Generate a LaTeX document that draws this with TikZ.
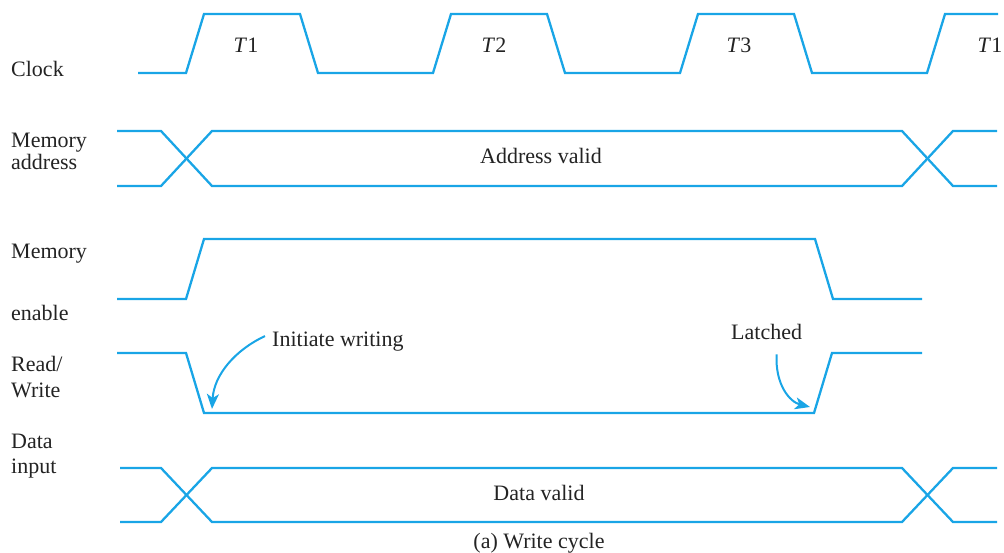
\documentclass[tikz,border=0pt]{standalone}
\usepackage{fontspec}
\setmainfont{Liberation Serif}
\usetikzlibrary{arrows.meta}

\definecolor{wave}{RGB}{25,165,230}
\definecolor{ink}{RGB}{35,35,35}

\tikzset{
  sig/.style={draw=wave, line width=2.3pt, line join=miter},
  lbl/.style={anchor=base west, inner sep=0pt, text=ink, font=\fontsize{22}{26}\selectfont},
  mid/.style={anchor=base, inner sep=0pt, text=ink, font=\fontsize{22}{26}\selectfont},
  note/.style={draw=wave, line width=2pt, -{Stealth[length=15pt,width=12pt,inset=4pt]}}
}

% bus with crossings: #1 top y, #2 bottom y, #3 start x
\newcommand{\busline}[3]{
\draw [sig] (#3,#1) -- (161,#1) -- (212,#2) -- (902,#2) -- (953,#1) -- (997,#1);
\draw [sig] (#3,#2) -- (161,#2) -- (212,#1) -- (902,#1) -- (953,#2) -- (997,#2);
}

\begin{document}
\begin{tikzpicture}[x=1pt, y=-1pt]
\useasboundingbox (0,0) rectangle (1004,553);

% signal names
\node [lbl] (clk) at (11,77) {Clock};
\node [lbl] (addr1) at (11,148) {Memory};
\node [lbl] (addr2) at (11,170) {address};
\node [lbl] (en1) at (11,259) {Memory};
\node [lbl] (en2) at (11,321) {enable};
\node [lbl] (rw1) at (11,371) {Read/};
\node [lbl] (rw2) at (11,397) {Write};
\node [lbl] (din1) at (11,448) {Data};
\node [lbl] (din2) at (11,473) {input};

% clock
\draw [sig] (138,73)
  \foreach \t in {186,433,680} { -- (\t,73) -- (\t+18,14) -- (\t+114,14) -- (\t+132,73) }
  -- (927,73) -- (945,14) -- (998,14);
\foreach \t/\n in {246/1,494/2,739/3,990/1}
{
\node [mid] (T\n-\t) at (\t,53) {\textit{T}\n};
}

% address and data buses
\busline{131}{186}{117}
\node [mid] (addrv) at (541,164) {Address valid};
\busline{468}{522}{120}
\node [mid] (datav) at (539,500) {Data valid};

% memory enable
\draw [sig] (117,299) -- (186,299) -- (204,239) -- (815,239) -- (833,299) -- (922,299);

% read/write
\draw [sig] (117,353) -- (186,353) -- (204,413) -- (814,413) -- (832,353) -- (922,353);

% annotations
\node [lbl] (init) at (272,346) {Initiate writing};
\coordinate (initend) at (212,409);
\draw [note] (init.west) ++(-7,-5) .. controls (235,350) and (214,375) .. (initend);

\node [lbl] (latch) at (731,339) {Latched};
\coordinate (latchend) at (810,407);
\draw [note] (latch.south) ++(10,15) .. controls (775,385) and (790,402) .. (latchend);

\node [mid] (caption) at (539,548) {(a) Write cycle};

\end{tikzpicture}
\end{document}
